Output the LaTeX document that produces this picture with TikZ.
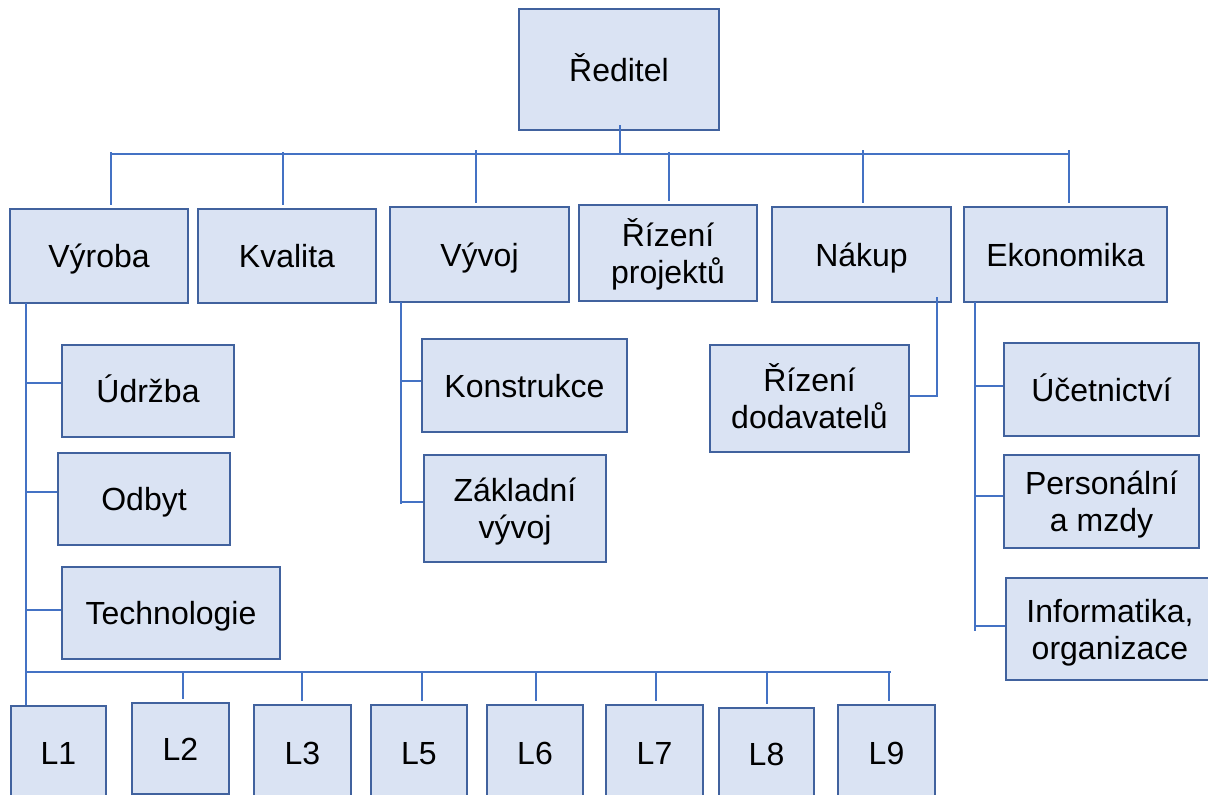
\documentclass[tikz,border=0pt]{standalone}
\usepackage{fontspec}
\setmainfont{Liberation Sans}
\definecolor{boxfill}{HTML}{DAE3F3}
\definecolor{boxline}{HTML}{41629E}
\definecolor{conn}{HTML}{4472C4}
\newcommand\tl[1]{\raisebox{0pt}[0.72em][0pt]{#1}}
\begin{document}
\begin{tikzpicture}[x=1pt,y=-1pt,
  orgbox/.style={draw=boxline, fill=boxfill, line width=2pt, inner sep=0pt,
    align=center, font=\fontsize{32}{37}\selectfont},
  link/.style={draw=conn, line width=1.3pt}]
\useasboundingbox (0,0) rectangle (1208,795);
\begin{scope}
\clip (0,0) rectangle (1208,795);
\fill[white] (0,0) rectangle (1208,795);
% top level
\node[orgbox, minimum width=200pt, minimum height=121pt] (red) at (619,69.5) {\tl{Ředitel}};
\node[orgbox, minimum width=178pt, minimum height=94pt] (vyroba) at (99,256) {\tl{Výroba}};
\node[orgbox, minimum width=178pt, minimum height=94pt] (kvalita) at (287,256) {\tl{Kvalita}};
\node[orgbox, minimum width=179pt, minimum height=95pt] (vyvoj) at (479.5,254.5) {\tl{Vývoj}};
\node[orgbox, minimum width=178pt, minimum height=96pt] (rizproj) at (668,253) {\tl{Řízení}\\\tl{projektů}};
\node[orgbox, minimum width=179pt, minimum height=95pt] (nakup) at (861.5,254.5) {\tl{Nákup}};
\node[orgbox, minimum width=203pt, minimum height=95pt] (ekon) at (1065.5,254.5) {\tl{Ekonomika}};
% second level
\node[orgbox, minimum width=172pt, minimum height=92pt] (udrzba) at (148,391) {\tl{Údržba}};
\node[orgbox, minimum width=172pt, minimum height=92pt] (odbyt) at (144,499) {\tl{Odbyt}};
\node[orgbox, minimum width=218pt, minimum height=92pt] (techno) at (171,613) {\tl{Technologie}};
\node[orgbox, minimum width=205pt, minimum height=93pt] (konstr) at (524.5,385.5) {\tl{Konstrukce}};
\node[orgbox, minimum width=182pt, minimum height=107pt] (zakl) at (515,508.5) {\tl{Základní}\\\tl{vývoj}};
\node[orgbox, minimum width=199pt, minimum height=107pt] (rizdod) at (809.5,398.5) {\tl{Řízení}\\\tl{dodavatelů}};
\node[orgbox, minimum width=195pt, minimum height=93pt] (ucet) at (1101.5,389.5) {\tl{Účetnictví}};
\node[orgbox, minimum width=195pt, minimum height=93pt] (person) at (1101.5,501.5) {\tl{Personální}\\\tl{a mzdy}};
\node[orgbox, minimum width=208pt, minimum height=102pt] (inform) at (1110,629) {\tl{Informatika,}\\\tl{organizace}};
% lines
\node[orgbox, minimum width=95pt, minimum height=94pt] (L1) at (58.5,753) {\tl{L1}};
\node[orgbox, minimum width=97pt, minimum height=91pt] (L2) at (180.5,748.5) {\tl{L2}};
\node[orgbox, minimum width=97pt, minimum height=95pt] (L3) at (302.5,752.5) {\tl{L3}};
\node[orgbox, minimum width=96pt, minimum height=95pt] (L5) at (419,752.5) {\tl{L5}};
\node[orgbox, minimum width=96pt, minimum height=95pt] (L6) at (535,752.5) {\tl{L6}};
\node[orgbox, minimum width=97pt, minimum height=95pt] (L7) at (654.5,752.5) {\tl{L7}};
\node[orgbox, minimum width=95pt, minimum height=92pt] (L8) at (766.5,754) {\tl{L8}};
\node[orgbox, minimum width=97pt, minimum height=95pt] (L9) at (886.5,752.5) {\tl{L9}};

% connectors: top bus
\coordinate (rtop) at (620,125);
\coordinate (busL) at (111,154);
\coordinate (busR) at (1069,154);
\draw[link] (rtop) -- (rtop |- busL);
\draw[link] (busL) -- (busR);
\foreach \x/\s/\n in {111/152/vyroba, 283/152/kvalita, 476/150/vyvoj, 669/152/rizproj, 863/150/nakup, 1069/150/ekon}{
  \coordinate (tmp) at (\x,\s);
  \draw[link, shorten >=3pt] (tmp) -- (tmp |- \n.north);
}
% Vyroba branch
\coordinate (vx) at (26,303);
\draw[link] (vx) -- (vx |- L1.north);
\foreach \y/\n in {383/udrzba, 492/odbyt, 610/techno}{
  \coordinate (tmp) at (26,\y);
  \draw[link] (tmp) -- (tmp -| \n.west);
}
% bottom bus
\coordinate (bbL) at (26,672);
\coordinate (bbR) at (891,672);
\draw[link] (bbL) -- (bbR);
\foreach \x/\n in {183/L2, 302/L3, 422/L5, 536/L6, 656/L7, 767/L8, 889/L9}{
  \coordinate (tmp) at (\x,672);
  \draw[link, shorten >=3pt] (tmp) -- (tmp |- \n.north);
}
% Vyvoj branch
\coordinate (vv) at (401,302);
\coordinate (vvb) at (401,504);
\draw[link] (vv) -- (vvb);
\foreach \y/\n in {381/konstr, 502/zakl}{
  \coordinate (tmp) at (401,\y);
  \draw[link] (tmp) -- (tmp -| \n.west);
}
% Nakup branch
\coordinate (nk) at (937,297);
\coordinate (nk2) at (937,396);
\draw[link] (nk) -- (nk2) -- (nk2 -| rizdod.east);
% Ekonomika branch
\coordinate (ek) at (975,302);
\coordinate (ekb) at (975,631);
\draw[link] (ek) -- (ekb);
\foreach \y/\n in {386/ucet, 496/person, 626/inform}{
  \coordinate (tmp) at (975,\y);
  \draw[link] (tmp) -- (tmp -| \n.west);
}
\end{scope}
\end{tikzpicture}
\end{document}
